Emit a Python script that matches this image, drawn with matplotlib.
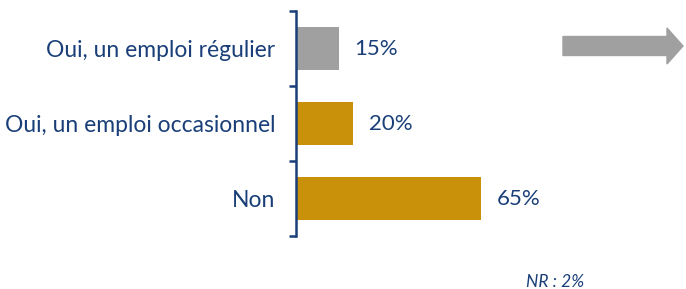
import matplotlib.pyplot as plt
from matplotlib.patches import FancyArrow

categories = ['Oui, un emploi régulier', 'Oui, un emploi occasionnel', 'Non']
values = [15, 20, 65]
bar_colors = ['#A0A0A0', '#C99109', '#C99109']
note = 'NR : 2%'

navy = '#1A3F78'
plt.rcParams['font.family'] = ['Lato', 'DejaVu Sans']

fig = plt.figure(figsize=(6.86, 2.89), dpi=100)
W, H = 686, 289
ax = fig.add_axes([296 / W, (H - 236) / H, 285 / W, 225 / H])

ypos = list(range(len(categories)))
ax.barh(ypos, values, height=0.58, color=bar_colors, left=0)
for y, v in zip(ypos, values):
    ax.text(v + 5.5, y, f'{v}%', va='center', ha='left', color=navy, fontsize=16)

ax.set_xlim(0, 100)
ax.set_ylim(2.5, -0.5)
ax.set_xticks([])
ax.set_yticks([-0.5, 0.5, 1.5, 2.5])
ax.set_yticklabels([])
ax.set_yticks(ypos, minor=True)
ax.set_yticklabels(categories, minor=True)
ax.tick_params(axis='y', which='major', length=5, width=1.8, color=navy, direction='out')
ax.tick_params(axis='y', which='minor', length=0, pad=15, labelsize=16.5, labelcolor=navy)
for s in ['top', 'right', 'bottom']:
    ax.spines[s].set_visible(False)
ax.spines['left'].set_color(navy)
ax.spines['left'].set_linewidth(1.8)

# flèche à droite
arrow = FancyArrow(563, H - 46, 120, 0, width=19, head_width=36, head_length=16,
                   length_includes_head=True, color='#A0A0A0', transform=None)
fig.patches.append(arrow)

fig.text(555 / W, (H - 282) / H, note, ha='center', va='center', color=navy,
         fontsize=12.5, style='italic')

fig.savefig('out.png', dpi=100)
